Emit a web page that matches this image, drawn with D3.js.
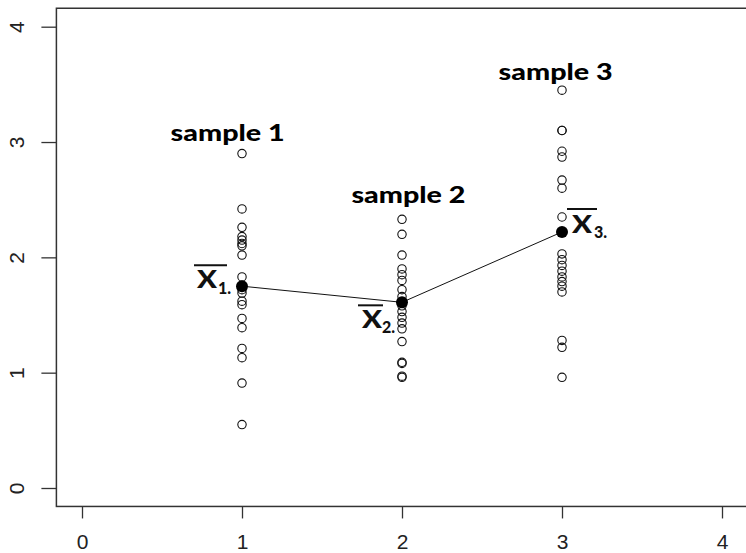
<!DOCTYPE html>
<html>
<head>
<meta charset="utf-8">
<script src="https://cdn.jsdelivr.net/npm/d3@7"></script>
<style>
  html, body { margin: 0; padding: 0; background: #fff; overflow: hidden; }
  svg { display: block; }
</style>
</head>
<body>
<svg id="chart" width="746" height="553"></svg>
<script>
// ---- data ----
const groups = [1, 2, 3];
const sample1 = [2.90, 2.42, 2.26, 2.18, 2.15, 2.12, 2.10, 2.02, 1.83, 1.72, 1.69, 1.62, 1.59, 1.47, 1.39, 1.21, 1.13, 0.91, 0.55];
const sample2 = [2.33, 2.20, 2.02, 1.90, 1.85, 1.80, 1.72, 1.66, 1.58, 1.53, 1.48, 1.43, 1.38, 1.27, 1.09, 1.08, 0.97, 0.96];
const sample3 = [3.45, 3.10, 3.10, 2.92, 2.87, 2.67, 2.60, 2.35, 2.03, 1.98, 1.93, 1.88, 1.83, 1.79, 1.75, 1.70, 1.28, 1.22, 0.96];
const groupMeans = [1.75, 1.61, 2.22];
const sampleLabels = ["sample 1", "sample 2", "sample 3"];
const meanSubscripts = ["1.", "2.", "3."];
const xTicks = [0, 1, 2, 3, 4];
const yTicks = [0, 1, 2, 3, 4];

(function () {
// ---- layout ----
const svg = d3.select("#chart");
const x = d3.scaleLinear().domain([0, 4]).range([82, 722]);
const y = d3.scaleLinear().domain([0, 4]).range([488, 26.7]);
const pad = 0.16; // R's 4% axis extension
const boxL = x(-pad), boxR = x(4 + pad) + 6, boxT = y(4 + pad), boxB = y(-pad);

// box (right edge falls outside the visible frame, as in the reference)
svg.append("rect")
  .attr("x", boxL).attr("y", boxT)
  .attr("width", boxR - boxL).attr("height", boxB - boxT)
  .attr("fill", "none").attr("stroke", "#333").attr("stroke-width", 1.5);

// x axis
const gx = svg.append("g").attr("transform", `translate(0,${boxB})`)
  .call(d3.axisBottom(x).tickValues(xTicks).tickSize(12).tickFormat(d3.format("d")));
gx.select(".domain").remove();
gx.selectAll(".tick line").attr("stroke", "#333").attr("stroke-width", 1.3);
gx.selectAll(".tick text")
  .attr("y", 43).attr("dy", null)
  .attr("font-family", "Liberation Sans, Arial, sans-serif")
  .attr("font-size", 21).attr("fill", "#222");

// y axis
const gy = svg.append("g").attr("transform", `translate(${boxL},0)`)
  .call(d3.axisLeft(y).tickValues(yTicks).tickSize(15).tickFormat(d3.format("d")));
gy.select(".domain").remove();
gy.selectAll(".tick line").attr("stroke", "#333").attr("stroke-width", 1.3);
gy.selectAll(".tick text")
  .attr("x", null).attr("dy", null)
  .attr("text-anchor", "middle")
  .attr("transform", "translate(-32,0) rotate(-90)")
  .attr("font-family", "Liberation Sans, Arial, sans-serif")
  .attr("font-size", 21).attr("fill", "#222");

// points
const samples = [sample1, sample2, sample3];
samples.forEach((vals, i) => {
  svg.append("g").selectAll("circle").data(vals).join("circle")
    .attr("cx", x(groups[i]))
    .attr("cy", d => y(d))
    .attr("r", 4.2)
    .attr("fill", "none")
    .attr("stroke", "#111")
    .attr("stroke-width", 1.1);
});

// mean line and mean points
const meanPts = groups.map((g, i) => [g, groupMeans[i]]);
svg.append("path")
  .datum(meanPts)
  .attr("d", d3.line().x(d => x(d[0])).y(d => y(d[1])))
  .attr("fill", "none").attr("stroke", "#111").attr("stroke-width", 1);
svg.append("g").selectAll("circle").data(meanPts).join("circle")
  .attr("cx", d => x(d[0])).attr("cy", d => y(d[1]))
  .attr("r", 6).attr("fill", "#000");

// sample labels (position in data coords)
const labelPos = [[0.91, 3.01], [2.04, 2.47], [2.96, 3.54]];
svg.append("g").selectAll("text").data(sampleLabels).join("text")
  .attr("x", (d, i) => x(labelPos[i][0]))
  .attr("y", (d, i) => y(labelPos[i][1]))
  .attr("text-anchor", "middle")
  .attr("font-family", "Lato, Open Sans, sans-serif")
  .attr("font-weight", "900")
  .attr("font-size", 22)
  .attr("textLength", 114)
  .attr("lengthAdjust", "spacingAndGlyphs")
  .attr("fill", "#000")
  .text(d => d);

// X-bar labels: pixel offsets from mean point [X dx, X dy, sub dx, sub dy, bar x1, bar x2, bar dy]
const barOffsets = [
  [-45, 2, -24, 8, -48, -15, -21],
  [-40, 26, -20, 31, -44, -19, 3],
  [10, 1, 32, 6, 5, 35, -23]
];
meanPts.forEach((p, i) => {
  const cx = x(p[0]), cy = y(p[1]);
  const o = barOffsets[i];
  const g = svg.append("g").attr("fill", "#111")
    .attr("font-family", "Lato, Open Sans, sans-serif").attr("font-weight", "900");
  g.append("text").attr("x", cx + o[0]).attr("y", cy + o[1])
    .attr("font-size", 25).attr("textLength", 20).attr("lengthAdjust", "spacingAndGlyphs").text("X");
  g.append("text").attr("x", cx + o[2]).attr("y", cy + o[3])
    .attr("font-size", 16).text(meanSubscripts[i]);
  g.append("line").attr("x1", cx + o[4]).attr("x2", cx + o[5])
    .attr("y1", cy + o[6]).attr("y2", cy + o[6])
    .attr("stroke", "#111").attr("stroke-width", 2);
});
})();
</script>
</body>
</html>
